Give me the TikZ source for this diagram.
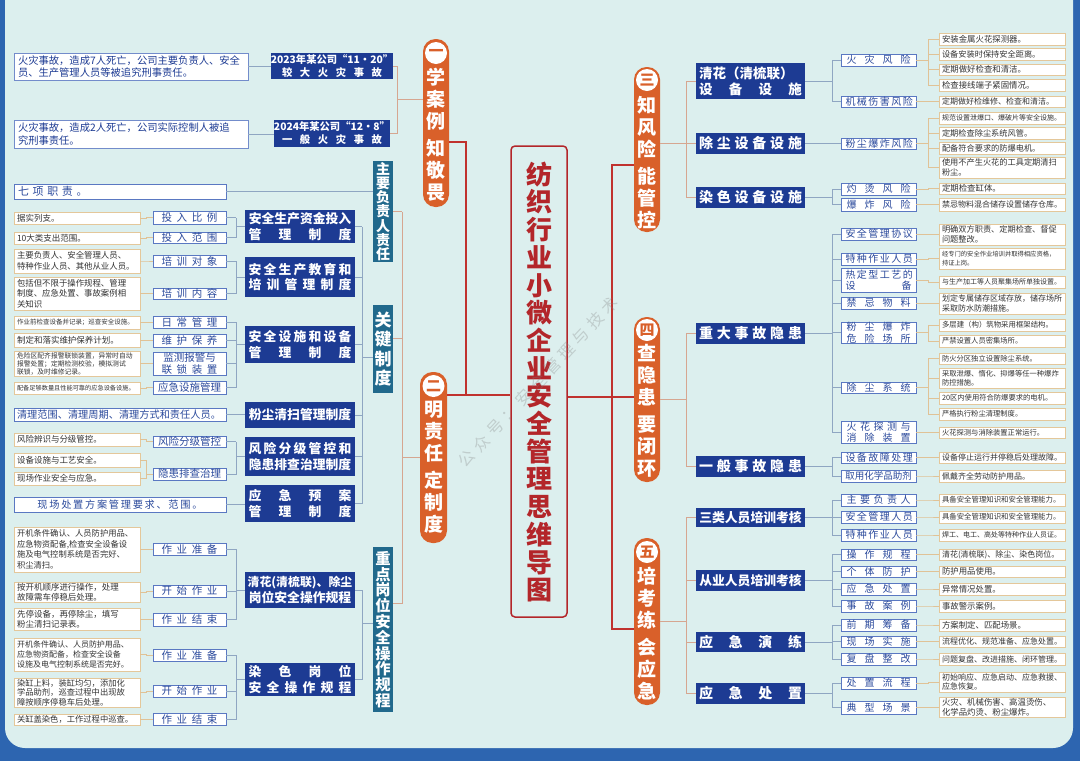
\documentclass[tikz,border=0pt]{standalone}
\usepackage{fontspec}
\setmainfont{Noto Sans CJK SC}
\definecolor{cBg}{HTML}{DCEFEE}
\definecolor{cFrame}{HTML}{2D65B0}
\definecolor{cNavy}{HTML}{1D3B93}
\definecolor{cTeal}{HTML}{21698C}
\definecolor{cOr}{HTML}{D9602A}
\definecolor{cLB}{HTML}{5A78C2}
\definecolor{cLT}{HTML}{2B4A9C}
\definecolor{cTan}{HTML}{E4C79A}
\definecolor{cDT}{HTML}{333333}
\definecolor{cRed}{HTML}{C0322E}
\definecolor{cTitle}{HTML}{B3262A}
\definecolor{cLnP}{HTML}{D6A690}
\definecolor{cLnB}{HTML}{8FA6C2}
\definecolor{cLnT}{HTML}{E0C296}
\newcommand\fz[2]{\fontsize{#1}{#2}\selectfont\lineskiplimit=-30pt\lineskip=0pt\relax}
\newcommand\J[2]{\makebox[#1][s]{#2}}
\newcommand\bx[7]{\node[#1,anchor=center,minimum width={#5-#3},minimum height={#6-#4}] (#2) at ({(#3+#5)/2},{(#4+#6)/2}) {#7};}
\newcommand\onel[4]{\draw[#1] (#2) -- (#2 -| #3) |- (#4);}
\newcommand\forkc[5]{%
 \draw[#1] (#2) -- (#2 -| #3);
 \draw[#1] (#4) -- (#4 -| #3);
 \foreach \q in {#5}{\draw[#1] (\q) -- (\q -| #3) -- (#4 -| #3);}%
}
\begin{document}
\begin{tikzpicture}[x=1pt,y=-1pt,
 dk/.style={fill=cNavy,text=white,inner sep=0pt,align=center,font=\bfseries\fz{12.8}{15.5}},
 tb/.style={fill=cTeal,text=white,inner sep=0pt,align=center},
 lb/.style={draw=cLB,line width=0.8pt,fill=white,text=cLT,inner sep=0pt,align=center,font=\fz{10.5}{12}},
 rb/.style={lb,font=\fz{10}{11.5}},
 ds/.style={draw=cTan,line width=0.8pt,fill=white,text=cDT,inner sep=0pt,align=left,text width=120pt,font=\fz{8}{9.6}},
 dsL/.style={draw=cLB!85,line width=0.8pt,fill=white,text=cNavy,inner sep=0pt,align=left,text width=226pt,font=\fz{10.3}{12.5}},
 pl/.style={fill=cOr,rounded corners=12.5pt,inner sep=0pt},
 nc/.style={circle,fill=white,minimum size=22pt,inner sep=0pt,text=cOr,font=\bfseries\fz{15}{15}},
 pt/.style={text=white,inner sep=0pt,align=center,font=\bfseries\fz{19}{22}},
 ln/.style={draw=cLnB,line width=0.8pt},
 lp/.style={draw=cLnP,line width=1pt},
 lt/.style={draw=cLnT,line width=0.8pt},
 rl/.style={draw=cRed,line width=1.3pt}]
\useasboundingbox (0,0) rectangle (1080,761);
\fill[cFrame] (0,0) rectangle (1080,761);
\fill[cBg,rounded corners=20pt] (5,-30) rectangle (1073,748);

% vertical fork positions
\coordinate (xA) at (146,0);
\coordinate (xB) at (236,0);
\coordinate (xC) at (362,0);
\coordinate (xD) at (402,0);
\coordinate (xE) at (397,0);
\coordinate (xF) at (686,0);
\coordinate (xG) at (832,0);
\coordinate (xH) at (928,0);

% ---------- title ----------
\bx{draw=cTitle,line width=1.5pt,rounded corners=4pt,inner sep=0pt}{title}{511}{146}{567}{617}{}
\node[text=cTitle,inner sep=0pt,align=center,font=\bfseries\fz{26}{27.7}] (titletxt) at (539,382) {纺\\织\\行\\业\\小\\微\\企\\业\\安\\全\\管\\理\\思\\维\\导\\图};

% ---------- pills ----------
\bx{pl}{p1}{423}{39}{449}{207}{}
\node[nc] (p1c) at (436,53) {一};
\node[pt] (p1t) at (436,134.5) {学\\案\\例\\[5pt]知\\敬\\畏};
\bx{pl}{p2}{420}{372}{447}{543}{}
\node[nc] (p2c) at (433.5,386) {二};
\node[pt] (p2t) at (433.5,467.5) {明\\责\\任\\[5pt]定\\制\\度};
\bx{pl}{p3}{634}{67}{660}{232}{}
\node[nc] (p3c) at (647,80) {三};
\node[pt] (p3t) at (647,163) {知\\风\\险\\[5pt]能\\管\\控};
\bx{pl}{p4}{634}{317}{660}{482}{}
\node[nc] (p4c) at (647,330) {四};
\node[pt] (p4t) at (647,410.5) {查\\隐\\患\\[5pt]要\\闭\\环};
\bx{pl}{p5}{634}{538}{660}{705}{}
\node[nc] (p5c) at (647,552) {五};
\node[pt] (p5t) at (647,633.5) {培\\考\\练\\[5pt]会\\应\\急};

% ---------- left top ----------
\bx{dsL}{c1}{14}{53}{248}{80}{火灾事故，造成7人死亡，公司主要负责人、安全\\员、生产管理人员等被追究刑事责任。}
\bx{dsL}{c2}{14}{120}{248}{148}{火灾事故，造成2人死亡，公司实际控制人被追\\究刑事责任。}
\bx{dk,font=\bfseries\fz{10.3}{13}}{a1}{277}{53}{387}{79}{2023年某公司“11•20”\\\J{100pt}{较 大 火 灾 事 故}}
\bx{dk,font=\bfseries\fz{10.3}{13}}{a2}{277}{120}{387}{147}{2024年某公司“12•8”\\\J{100pt}{一 般 火 灾 事 故}}

% ---------- teal ----------
\bx{tb,font=\bfseries\fz{14}{14.2}}{t1}{373}{161}{393}{262}{主\\要\\负\\责\\人\\责\\任}
\bx{tb,font=\bfseries\fz{17}{19.5}}{t2}{373}{305}{393}{393}{关\\键\\制\\度}
\bx{tb,font=\bfseries\fz{15.3}{15.8}}{t3}{373}{547}{393}{712}{重\\点\\岗\\位\\安\\全\\操\\作\\规\\程}

% ---------- long left boxes ----------
\bx{lb,align=left,text width=204pt,font=\fz{11}{12}}{q7}{14}{184}{226}{199}{\J{72pt}{七 项 职 责 。}}
\bx{lb,align=left,text width=206pt,font=\fz{10.2}{12}}{q8}{14}{408}{226}{421}{清理范围、清理周期、清理方式和责任人员。}
\bx{lb,font=\fz{10.2}{12}}{q9}{14}{497}{226}{512}{\J{165pt}{现 场 处 置 方 案 管 理 要 求 、 范 围 。}}

% ---------- left dark ----------
\bx{dk}{d1}{245}{210}{355}{243}{安全生产资金投入\\\J{103pt}{管 理 制 度}}
\bx{dk}{d2}{245}{257}{355}{297}{\J{103pt}{安 全 生 产 教 育 和}\\\J{103pt}{培 训 管 理 制 度}}
\bx{dk}{d3}{245}{326}{355}{363}{\J{103pt}{安 全 设 施 和 设 备}\\\J{103pt}{管 理 制 度}}
\bx{dk}{d4}{245}{402}{355}{428}{粉尘清扫管理制度}
\bx{dk}{d5}{245}{437}{355}{476}{\J{103pt}{风 险 分 级 管 控 和}\\隐患排查治理制度}
\bx{dk}{d6}{245}{485}{355}{522}{\J{103pt}{应 急 预 案}\\\J{103pt}{管 理 制 度}}
\bx{dk}{d7}{245}{572}{355}{608}{{\fz{11.9}{15.5}清花(清梳联)、除尘}\\岗位安全操作规程}
\bx{dk}{d8}{245}{663}{355}{696}{\J{103pt}{染 色 岗 位}\\\J{103pt}{安 全 操 作 规 程}}

% ---------- left light ----------
\bx{lb}{l1}{153}{211}{226}{224}{\J{56pt}{投 入 比 例}}
\bx{lb}{l2}{153}{232}{226}{243}{\J{56pt}{投 入 范 围}}
\bx{lb}{l3}{153}{255}{226}{267}{\J{56pt}{培 训 对 象}}
\bx{lb}{l4}{153}{288}{226}{299}{\J{56pt}{培 训 内 容}}
\bx{lb}{l5}{153}{316}{226}{328}{\J{56pt}{日 常 管 理}}
\bx{lb}{l6}{153}{334}{226}{347}{\J{56pt}{维 护 保 养}}
\bx{lb,font=\fz{10.5}{11.5}}{l7}{153}{352}{226}{375}{监测报警与\\\J{56pt}{联 锁 装 置}}
\bx{lb}{l8}{153}{381}{226}{394}{应急设施管理}
\bx{lb}{l9}{153}{436}{226}{447}{风险分级管控}
\bx{lb}{l10}{153}{468}{226}{480}{隐患排查治理}
\bx{lb}{l11}{153}{543}{226}{555}{\J{56pt}{作 业 准 备}}
\bx{lb}{l12}{153}{585}{226}{597}{\J{56pt}{开 始 作 业}}
\bx{lb}{l13}{153}{613}{226}{626}{\J{56pt}{作 业 结 束}}
\bx{lb}{l14}{153}{649}{226}{661}{\J{56pt}{作 业 准 备}}
\bx{lb}{l15}{153}{685}{226}{697}{\J{56pt}{开 始 作 业}}
\bx{lb}{l16}{153}{713}{226}{725}{\J{56pt}{作 业 结 束}}

% ---------- left desc ----------
\bx{ds,font=\fz{8.5}{10}}{e1}{14}{212}{140}{224}{据实列支。}
\bx{ds,font=\fz{8.5}{10}}{e2}{14}{232}{140}{244}{10大类支出范围。}
\bx{ds,font=\fz{8.4}{10.5}}{e3}{14}{249}{140}{273}{主要负责人、安全管理人员、\\特种作业人员、其他从业人员。}
\bx{ds,font=\fz{8.4}{10.5}}{e4}{14}{277}{140}{310}{包括但不限于操作规程、管理\\制度、应急处置、事故案例相\\关知识}
\bx{ds,font=\fz{6.5}{8}}{e5}{14}{316}{140}{329}{作业前检查设备并记录；巡查安全设施。}
\bx{ds,font=\fz{8.5}{10}}{e6}{14}{333}{140}{347}{制定和落实维护保养计划。}
\bx{ds,font=\fz{6.8}{8}}{e7}{14}{351}{140}{376}{危险区配齐报警联锁装置，异常时自动\\报警处置；定期检测校验，模拟测试\\联锁，及时维修记录。}
\bx{ds,font=\fz{6.2}{8}}{e8}{14}{382}{140}{394}{配备足够数量且性能可靠的应急设备设施。}
\bx{ds,font=\fz{8.5}{10}}{e9}{14}{433}{140}{446}{风险辨识与分级管控。}
\bx{ds,font=\fz{8.5}{10}}{e10}{14}{453}{140}{467}{设备设施与工艺安全。}
\bx{ds,font=\fz{8.5}{10}}{e11}{14}{472}{140}{485}{现场作业安全与应急。}
\bx{ds,font=\fz{8.3}{10.6}}{e12}{14}{527}{140}{572}{开机条件确认、人员防护用品、\\应急物资配备,检查安全设备设\\施及电气控制系统是否完好、\\积尘清扫。}
\bx{ds,font=\fz{8.5}{10}}{e13}{14}{582}{140}{602}{按开机顺序进行操作，处理\\故障需车停稳后处理。}
\bx{ds,font=\fz{8.5}{10}}{e14}{14}{608}{140}{630}{先停设备，再停除尘，填写\\粉尘清扫记录表。}
\bx{ds,font=\fz{8}{10.3}}{e15}{14}{638}{140}{671}{开机条件确认、人员防护用品、\\应急物资配备，检查安全设备\\设施及电气控制系统是否完好。}
\bx{ds,font=\fz{8.3}{9.6}}{e16}{14}{678}{140}{707}{染缸上料，装缸均匀，添加化\\学品助剂，巡查过程中出现故\\障按顺序停稳车后处理。}
\bx{ds,font=\fz{8.3}{10}}{e17}{14}{714}{140}{725}{关缸盖染色，工作过程中巡查。}

% ---------- right dark ----------
\bx{dk,font=\bfseries\fz{13.5}{16}}{r1}{696}{63}{805}{99}{\makebox[103pt][l]{清花（清梳联）}\\\J{103pt}{设 备 设 施}}
\bx{dk,font=\bfseries\fz{14}{16}}{r2}{696}{133}{805}{154}{\J{103pt}{除 尘 设 备 设 施}}
\bx{dk,font=\bfseries\fz{14}{16}}{r3}{696}{187}{805}{208}{\J{103pt}{染 色 设 备 设 施}}
\bx{dk,font=\bfseries\fz{14}{16}}{r4}{696}{323}{805}{344}{\J{103pt}{重 大 事 故 隐 患}}
\bx{dk,font=\bfseries\fz{14}{16}}{r5}{696}{456}{805}{477}{\J{103pt}{一 般 事 故 隐 患}}
\bx{dk}{r6}{696}{508}{805}{527}{三类人员培训考核}
\bx{dk}{r7}{696}{570}{805}{591}{从业人员培训考核}
\bx{dk,font=\bfseries\fz{14}{16}}{r8}{696}{632}{805}{652}{\J{103pt}{应 急 演 练}}
\bx{dk,font=\bfseries\fz{14}{16}}{r9}{696}{683}{805}{704}{\J{103pt}{应 急 处 置}}

% ---------- right light ----------
\bx{rb}{m1}{841}{54}{916}{66}{\J{64pt}{火 灾 风 险}}
\bx{rb}{m2}{841}{96}{916}{107}{\J{66pt}{机 械 伤 害 风 险}}
\bx{rb}{m3}{841}{138}{916}{149}{\J{66pt}{粉 尘 爆 炸 风 险}}
\bx{rb}{m4}{841}{183}{916}{195}{\J{64pt}{灼 烫 风 险}}
\bx{rb}{m5}{841}{198}{916}{211}{\J{64pt}{爆 炸 风 险}}
\bx{rb}{m6}{841}{228}{916}{240}{\J{66pt}{安 全 管 理 协 议}}
\bx{rb}{m7}{841}{253}{916}{265}{\J{66pt}{特 种 作 业 人 员}}
\bx{rb,font=\fz{10}{11.5}}{m8}{841}{268}{916}{292}{\J{66pt}{热 定 型 工 艺 的}\\\J{66pt}{设 备}}
\bx{rb}{m9}{841}{297}{916}{309}{\J{64pt}{禁 忌 物 料}}
\bx{rb,font=\fz{10}{11.5}}{m10}{841}{322}{916}{343}{\J{64pt}{粉 尘 爆 炸}\\\J{64pt}{危 险 场 所}}
\bx{rb}{m11}{841}{382}{916}{393}{\J{64pt}{除 尘 系 统}}
\bx{rb,font=\fz{10}{11.5}}{m12}{841}{421}{916}{443}{\J{64pt}{火 花 探 测 与}\\\J{64pt}{消 除 装 置}}
\bx{rb}{m13}{841}{452}{916}{463}{\J{66pt}{设 备 故 障 处 理}}
\bx{rb,font=\fz{9.5}{11}}{m14}{841}{470}{916}{482}{取用化学品助剂}
\bx{rb}{m15}{841}{494}{916}{506}{\J{64pt}{主 要 负 责 人}}
\bx{rb}{m16}{841}{511}{916}{523}{\J{66pt}{安 全 管 理 人 员}}
\bx{rb}{m17}{841}{529}{916}{541}{\J{66pt}{特 种 作 业 人 员}}
\bx{rb}{m18}{841}{549}{916}{560}{\J{64pt}{操 作 规 程}}
\bx{rb}{m19}{841}{566}{916}{577}{\J{64pt}{个 体 防 护}}
\bx{rb}{m20}{841}{583}{916}{595}{\J{64pt}{应 急 处 置}}
\bx{rb}{m21}{841}{600}{916}{612}{\J{64pt}{事 故 案 例}}
\bx{rb}{m22}{841}{619}{916}{631}{\J{64pt}{前 期 筹 备}}
\bx{rb}{m23}{841}{636}{916}{647}{\J{64pt}{现 场 实 施}}
\bx{rb}{m24}{841}{653}{916}{665}{\J{64pt}{复 盘 整 改}}
\bx{rb}{m25}{841}{677}{916}{689}{\J{64pt}{处 置 流 程}}
\bx{rb}{m26}{841}{701}{916}{714}{\J{64pt}{典 型 场 景}}

% ---------- right desc ----------
\bx{ds,font=\fz{8.4}{10}}{f1}{939}{33}{1065}{45}{安装金属火花探测器。}
\bx{ds,font=\fz{8.2}{10}}{f2}{939}{48}{1065}{60}{设备安装时保持安全距离。}
\bx{ds,font=\fz{8.4}{10}}{f3}{939}{64}{1065}{75}{定期做好检查和清洁。}
\bx{ds,font=\fz{8.4}{10}}{f4}{939}{79}{1065}{91}{检查接线端子紧固情况。}
\bx{ds}{f5}{939}{96}{1065}{107}{定期做好检维修、检查和清洁。}
\bx{ds,font=\fz{7}{8.5}}{f6}{939}{112}{1065}{124}{规范设置泄爆口、爆破片等安全设施。}
\bx{ds,font=\fz{8.2}{10}}{f7}{939}{127}{1065}{139}{定期检查除尘系统风管。}
\bx{ds,font=\fz{8.2}{10}}{f8}{939}{142}{1065}{154}{配备符合要求的防爆电机。}
\bx{ds,font=\fz{8.2}{9.6}}{f9}{939}{157}{1065}{178}{使用不产生火花的工具定期清扫\\粉尘。}
\bx{ds,font=\fz{8.4}{10}}{f10}{939}{183}{1065}{194}{定期检查缸体。}
\bx{ds}{f11}{939}{198}{1065}{211}{禁忌物料混合储存设置储存仓库。}
\bx{ds,font=\fz{8.2}{9.6}}{f12}{939}{224}{1065}{245}{明确双方职责、定期检查、督促\\问题整改。}
\bx{ds,font=\fz{6.3}{9.6}}{f13}{939}{248}{1065}{269}{经专门的安全作业培训并取得相应资格，\\持证上岗。}
\bx{ds,font=\fz{7}{8.5}}{f14}{939}{276}{1065}{288}{与生产加工等人员聚集场所单独设置。}
\bx{ds,font=\fz{8}{9.6}}{f15}{939}{293}{1065}{314}{划定专属储存区域存放，储存场所\\采取防水防潮措施。}
\bx{ds,font=\fz{7.4}{8.5}}{f16}{939}{319}{1065}{331}{多层建（构）筑物采用框架结构。}
\bx{ds,font=\fz{7.3}{8.5}}{f17}{939}{335}{1065}{347}{严禁设置人员密集场所。}
\bx{ds,font=\fz{7.3}{8.5}}{f18}{939}{353}{1065}{364}{防火分区独立设置除尘系统。}
\bx{ds,font=\fz{7.3}{9.4}}{f19}{939}{368}{1065}{388}{采取泄爆、惰化、抑爆等任一种爆炸\\防控措施。}
\bx{ds,font=\fz{7.3}{8.5}}{f20}{939}{392}{1065}{404}{20区内使用符合防爆要求的电机。}
\bx{ds,font=\fz{7.3}{8.5}}{f21}{939}{408}{1065}{420}{严格执行粉尘清理制度。}
\bx{ds,font=\fz{7.3}{8.5}}{f22}{939}{427}{1065}{438}{火花探测与消除装置正常运行。}
\bx{ds}{f23}{939}{452}{1065}{463}{设备停止运行并停稳后处理故障。}
\bx{ds}{f24}{939}{470}{1065}{482}{佩戴齐全劳动防护用品。}
\bx{ds,font=\fz{7.4}{8.5}}{f25}{939}{494}{1065}{506}{具备安全管理知识和安全管理能力。}
\bx{ds,font=\fz{7.4}{8.5}}{f26}{939}{511}{1065}{523}{具备安全管理知识和安全管理能力。}
\bx{ds,font=\fz{7}{8.5}}{f27}{939}{529}{1065}{541}{焊工、电工、高处等特种作业人员证。}
\bx{ds}{f28}{939}{549}{1065}{560}{清花(清梳联)、除尘、染色岗位。}
\bx{ds,font=\fz{8.4}{10}}{f29}{939}{566}{1065}{577}{防护用品使用。}
\bx{ds,font=\fz{8.4}{10}}{f30}{939}{583}{1065}{595}{异常情况处置。}
\bx{ds,font=\fz{8.4}{10}}{f31}{939}{600}{1065}{612}{事故警示案例。}
\bx{ds,font=\fz{8.4}{10}}{f32}{939}{619}{1065}{631}{方案制定、匹配场景。}
\bx{ds}{f33}{939}{636}{1065}{647}{流程优化、规范准备、应急处置。}
\bx{ds}{f34}{939}{653}{1065}{665}{问题复盘、改进措施、闭环管理。}
\bx{ds,font=\fz{8}{9.6}}{f35}{939}{672}{1065}{692}{初始响应、应急启动、应急救援、\\应急恢复。}
\bx{ds,font=\fz{8.4}{9.6}}{f36}{939}{697}{1065}{717}{火灾、机械伤害、高温烫伤、\\化学品灼烫、粉尘爆炸。}

% ---------- red main connectors ----------
\coordinate (p1r) at ([yshift=-19pt]p1.east);
\coordinate (jL) at (466,395);
\draw[rl] (p1r) -| (jL);
\draw[rl] (p2.east |- jL) -- (title.west |- jL);
\coordinate (jR) at (612,397);
\coordinate (jR3) at (612,165);
\coordinate (jR5) at (612,629);
\draw[rl] (title.east |- jR) -- (p4.west |- jR);
\draw[rl] (p3.west |- jR3) -- (jR3) -- (jR5) -- (p5.west |- jR5);

% ---------- pill level ----------
\coordinate (p1w) at ([yshift=24pt]p1.west);
\forkc{lp}{p1w}{xE}{a1.east}{a2.east}
\coordinate (t2e) at ([yshift=11pt]t2.east);
\coordinate (t3e) at ([yshift=26.5pt]t3.east);
\forkc{lp}{p2.west}{xD}{t1.east}{t2e,t3e}
\coordinate (p3e) at (p3.east |- r2.west);
\forkc{lp}{p3e}{xF}{r1.west}{r2.west,r3.west}
\forkc{lp}{p4.east}{xF}{r4.west}{r5.west}
\forkc{lp}{p5.east}{xF}{r6.west}{r7.west,r8.west,r9.west}

% ---------- left connectors ----------
\draw[ln] (c1.east) -- (c1.east -| a1.west);
\draw[ln] (c2.east) -- (c2.east -| a2.west);
\draw[ln] (q7.east) -- (q7.east -| t1.west);
\coordinate (t2w) at ([yshift=-8pt]t2.west);
\coordinate (t3w) at ([yshift=6.5pt]t3.west);
\forkc{ln}{t2w}{xC}{d1.east}{d2.east,d3.east,d4.east,d5.east,d6.east}
\forkc{ln}{t3w}{xC}{d7.east}{d8.east}
\forkc{ln}{d1.west}{xB}{l1.east}{l2.east}
\forkc{ln}{d2.west}{xB}{l3.east}{l4.east}
\forkc{ln}{d3.west}{xB}{l5.east}{l6.east,l7.east,l8.east}
\draw[ln] (q8.east) -- (q8.east -| d4.west);
\forkc{ln}{d5.west}{xB}{l9.east}{l10.east}
\draw[ln] (q9.east) -- (q9.east -| d6.west);
\forkc{ln}{d7.west}{xB}{l11.east}{l12.east,l13.east}
\forkc{ln}{d8.west}{xB}{l14.east}{l15.east,l16.east}
\onel{lt}{e1.east}{xA}{l1.west}
\onel{lt}{e2.east}{xA}{l2.west}
\onel{lt}{e3.east}{xA}{l3.west}
\onel{lt}{e4.east}{xA}{l4.west}
\onel{lt}{e5.east}{xA}{l5.west}
\onel{lt}{e6.east}{xA}{l6.west}
\onel{lt}{e7.east}{xA}{l7.west}
\onel{lt}{e8.east}{xA}{l8.west}
\onel{lt}{e9.east}{xA}{l9.west}
\forkc{lt}{l10.west}{xA}{e10.east}{e11.east}
\onel{lt}{e12.east}{xA}{l11.west}
\onel{lt}{e13.east}{xA}{l12.west}
\onel{lt}{e14.east}{xA}{l13.west}
\onel{lt}{e15.east}{xA}{l14.west}
\onel{lt}{e16.east}{xA}{l15.west}
\onel{lt}{e17.east}{xA}{l16.west}

% ---------- right connectors ----------
\forkc{ln}{r1.east}{xG}{m1.west}{m2.west}
\onel{ln}{r2.east}{xG}{m3.west}
\forkc{ln}{r3.east}{xG}{m4.west}{m5.west}
\forkc{ln}{r4.east}{xG}{m6.west}{m7.west,m8.west,m9.west,m10.west,m11.west,m12.west}
\forkc{ln}{r5.east}{xG}{m13.west}{m14.west}
\forkc{ln}{r6.east}{xG}{m15.west}{m16.west,m17.west}
\forkc{ln}{r7.east}{xG}{m18.west}{m19.west,m20.west,m21.west}
\forkc{ln}{r8.east}{xG}{m22.west}{m23.west,m24.west}
\forkc{ln}{r9.east}{xG}{m25.west}{m26.west}
\forkc{lt}{m1.east}{xH}{f1.west}{f2.west,f3.west,f4.west}
\onel{lt}{m2.east}{xH}{f5.west}
\forkc{lt}{m3.east}{xH}{f6.west}{f7.west,f8.west,f9.west}
\onel{lt}{m4.east}{xH}{f10.west}
\onel{lt}{m5.east}{xH}{f11.west}
\onel{lt}{m6.east}{xH}{f12.west}
\onel{lt}{m7.east}{xH}{f13.west}
\onel{lt}{m8.east}{xH}{f14.west}
\onel{lt}{m9.east}{xH}{f15.west}
\forkc{lt}{m10.east}{xH}{f16.west}{f17.west}
\forkc{lt}{m11.east}{xH}{f18.west}{f19.west,f20.west,f21.west}
\onel{lt}{m12.east}{xH}{f22.west}
\onel{lt}{m13.east}{xH}{f23.west}
\onel{lt}{m14.east}{xH}{f24.west}
\onel{lt}{m15.east}{xH}{f25.west}
\onel{lt}{m16.east}{xH}{f26.west}
\onel{lt}{m17.east}{xH}{f27.west}
\onel{lt}{m18.east}{xH}{f28.west}
\onel{lt}{m19.east}{xH}{f29.west}
\onel{lt}{m20.east}{xH}{f30.west}
\onel{lt}{m21.east}{xH}{f31.west}
\onel{lt}{m22.east}{xH}{f32.west}
\onel{lt}{m23.east}{xH}{f33.west}
\onel{lt}{m24.east}{xH}{f34.west}
\onel{lt}{m25.east}{xH}{f35.west}
\onel{lt}{m26.east}{xH}{f36.west}

% ---------- watermark ----------
\node[rotate=47,text=gray,opacity=0.3,inner sep=0pt,font=\fz{16}{16}] (wm) at (538,382) {\J{225pt}{公 众 号 ： 安 全 管 理 与 技 术}};
\end{tikzpicture}
\end{document}
